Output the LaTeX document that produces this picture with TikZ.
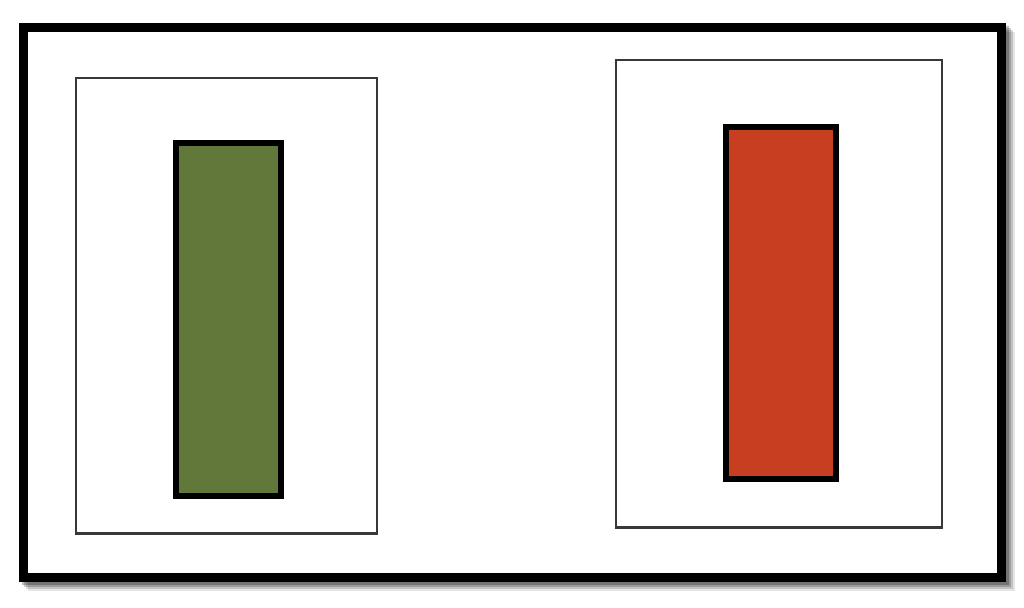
\documentclass[tikz,border=0pt]{standalone}
\usetikzlibrary{positioning}
\definecolor{panelgreen}{HTML}{62773A}
\definecolor{panelred}{HTML}{C83E20}
\definecolor{framegray}{HTML}{383838}

\begin{document}
\begin{tikzpicture}[x=0.75pt, y=-0.75pt,
    frame/.style={draw=framegray, line width=1.8pt, fill=white, inner sep=0pt, outer sep=0pt},
    bar/.style={draw=black, line width=4.5pt, inner sep=0pt, outer sep=0pt}]
  \useasboundingbox (0,0) rectangle (1024,607);
  % soft shadow of the outer border
  \foreach \d/\o in {9/0.10, 7/0.15, 5/0.20, 3/0.25}
    \draw[black, opacity=\o, line width=6.75pt] (23+\d,27+\d) rectangle (1001.5+\d,577.5+\d);
  \draw[black, line width=6.75pt, fill=white] (23,27) rectangle (1001.5,577.5);
  % left panel
  \node[frame, minimum width=225.75pt, minimum height=341.6pt] (leftframe) at (226.5,305.75) {};
  \node[bar, fill=panelgreen, minimum width=78.75pt, minimum height=264.4pt] (greenbar) at (228.5,319.25) {};
  % right panel
  \node[frame, minimum width=244.3pt, minimum height=350.6pt] (rightframe) at (778.85,293.75) {};
  \node[bar, fill=panelred, minimum width=82.5pt, minimum height=264pt] (redbar) at (781,303) {};
\end{tikzpicture}
\end{document}
